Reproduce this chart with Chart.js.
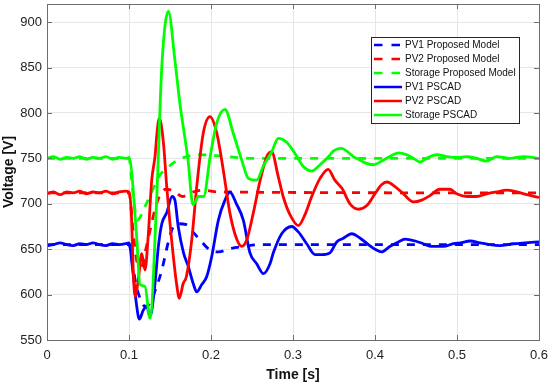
<!DOCTYPE html>
<html>
<head>
<meta charset="utf-8">
<script src="https://cdn.jsdelivr.net/npm/chart.js@4.4.1/dist/chart.umd.min.js"></script>
<style>
  html, body { margin: 0; padding: 0; background: #fff; }
  #wrap { width: 550px; height: 385px; }
</style>
</head>
<body>
<div id="wrap"><canvas id="chart" width="550" height="385"></canvas></div>
<script>
// time [s] / voltage [V] pairs
const tPV1Prop = [0, 0.1, 0.105, 0.109, 0.1155, 0.1195, 0.125, 0.1337, 0.14, 0.148, 0.154, 0.16, 0.17, 0.178, 0.1887, 0.1988, 0.209, 0.225, 0.24, 0.26, 0.6];
const vPV1Prop = [655, 655, 630, 609, 592, 587, 590, 609, 627, 658, 675, 678, 677, 669, 658, 649, 647, 651, 653, 655, 655];

const tPV2Prop = [0, 0.1, 0.105, 0.11, 0.115, 0.12, 0.126, 0.132, 0.138, 0.145, 0.155, 0.165, 0.178, 0.19, 0.21, 0.6];
const vPV2Prop = [712, 712, 670, 635, 630, 648, 672, 695, 710, 716, 714, 708, 713, 715, 713, 712];

const tStoProp = [0, 0.1, 0.105, 0.11, 0.1195, 0.1297, 0.138, 0.146, 0.154, 0.17, 0.187, 0.219, 0.25, 0.6];
const vStoProp = [750, 750, 710, 682, 697, 717, 732, 739, 745, 752, 754, 752, 750, 750];

const tPV1Pscad = [0, 0.008, 0.016, 0.024, 0.032, 0.04, 0.048, 0.056, 0.064, 0.072, 0.08, 0.088, 0.096, 0.1,
  0.105, 0.109, 0.1126, 0.1175, 0.1216, 0.1256, 0.1317, 0.1357, 0.14, 0.146, 0.1525, 0.156, 0.16, 0.1665, 0.1723,
  0.1784, 0.1826, 0.1887, 0.1948, 0.2009, 0.209, 0.217, 0.223, 0.231, 0.2394, 0.2475, 0.2557, 0.264, 0.272, 0.276,
  0.2862, 0.2984, 0.3065, 0.3167, 0.327, 0.335, 0.345, 0.3533, 0.3614, 0.3716, 0.382, 0.392, 0.4, 0.408, 0.418,
  0.4285, 0.4366, 0.449, 0.459, 0.469, 0.4833, 0.4955, 0.504, 0.516, 0.528, 0.54, 0.552, 0.5687, 0.583, 0.6];
const vPV1Pscad = [654, 655, 657, 655, 654, 656, 655, 657, 655, 654, 656, 655, 656, 657,
  623, 590, 573, 583, 587, 576, 612, 652, 678, 690, 708, 704, 675, 646, 631,
  612, 603, 611, 620, 642, 682, 704, 713, 700, 682, 646, 634, 623, 634, 646,
  667, 675, 669, 656, 644, 644, 646, 658, 662, 667, 662, 655, 650, 647, 653,
  658, 661, 659, 656, 653, 653, 656, 657, 659, 657, 655, 654, 656, 657, 658];

const tPV2Pscad = [0, 0.008, 0.016, 0.024, 0.032, 0.04, 0.048, 0.056, 0.064, 0.072, 0.08, 0.088, 0.096, 0.1,
  0.103, 0.105, 0.1073, 0.1113, 0.1155, 0.1195, 0.1236, 0.1277, 0.1317, 0.1345, 0.137, 0.142, 0.146, 0.152, 0.158,
  0.1614, 0.166, 0.17, 0.1765, 0.1826, 0.1906, 0.1988, 0.207, 0.215, 0.223, 0.231, 0.2375, 0.2435, 0.2516, 0.26,
  0.268, 0.274, 0.282, 0.288, 0.2963, 0.3065, 0.3146, 0.3228, 0.333, 0.343, 0.351, 0.3597, 0.3695, 0.38, 0.39,
  0.4, 0.408, 0.4146, 0.4244, 0.4345, 0.447, 0.457, 0.467, 0.479, 0.4915, 0.4996, 0.512, 0.524, 0.536, 0.548,
  0.5606, 0.573, 0.585, 0.6];
const vPV2Pscad = [711, 713, 710, 713, 712, 714, 711, 713, 712, 714, 711, 713, 714, 713,
  686, 631, 598, 616, 645, 627, 667, 726, 752, 781, 794, 767, 719, 660, 612,
  596, 612, 620, 660, 719, 778, 796, 778, 737, 690, 662, 653, 660, 690, 726,
  752, 757, 730, 708, 688, 676, 688, 708, 728, 738, 726, 717, 700, 694, 698,
  711, 721, 724, 719, 711, 702, 704, 709, 716, 716, 711, 708, 708, 711, 713,
  715, 713, 710, 707];

const tStoPscad = [0, 0.008, 0.016, 0.024, 0.032, 0.04, 0.048, 0.056, 0.064, 0.072, 0.08, 0.088, 0.096, 0.1,
  0.109, 0.1134, 0.1195, 0.1256, 0.1337, 0.14, 0.148, 0.156, 0.162, 0.172, 0.178, 0.185, 0.191, 0.199, 0.207,
  0.217, 0.227, 0.2375, 0.2455, 0.2557, 0.264, 0.274, 0.282, 0.292, 0.302, 0.3126, 0.323, 0.333, 0.3435, 0.349,
  0.359, 0.367, 0.3735, 0.3817, 0.388, 0.398, 0.41, 0.418, 0.4285, 0.4387, 0.447, 0.455, 0.463, 0.475, 0.4875,
  0.4996, 0.512, 0.524, 0.536, 0.548, 0.5646, 0.581, 0.6];
const vStoPscad = [750, 752, 749, 751, 750, 752, 749, 751, 750, 752, 749, 751, 750, 751,
  668, 611, 609, 574, 704, 851, 912, 858, 811, 748, 699, 708, 708, 752, 789,
  804, 778, 748, 728, 726, 742, 757, 772, 768, 756, 741, 736, 743, 752, 758,
  761, 757, 752, 748, 745, 743, 748, 752, 756, 754, 750, 746, 750, 754, 752,
  751, 752, 750, 747, 752, 750, 752, 750];

const xTicks = [0, 0.1, 0.2, 0.3, 0.4, 0.5, 0.6];
const yTicks = [550, 600, 650, 700, 750, 800, 850, 900];

const pts = (ts, vs) => ts.map((t, i) => ({ x: t, y: vs[i] }));

const BLUE = '#0000ff', RED = '#ff0000', GREEN = '#00ff00';
const DASH = [8, 8];

const series = [
  { label: 'PV1 Proposed Model', t: tPV1Prop, v: vPV1Prop, color: BLUE, dash: DASH },
  { label: 'PV2 Proposed Model', t: tPV2Prop, v: vPV2Prop, color: RED, dash: DASH },
  { label: 'Storage Proposed Model', t: tStoProp, v: vStoProp, color: GREEN, dash: DASH },
  { label: 'PV1 PSCAD', t: tPV1Pscad, v: vPV1Pscad, color: BLUE, dash: [] },
  { label: 'PV2 PSCAD', t: tPV2Pscad, v: vPV2Pscad, color: RED, dash: [] },
  { label: 'Storage PSCAD', t: tStoPscad, v: vStoPscad, color: GREEN, dash: [] }
];

// matlab-ish box: frame plus inward tick marks
const boxFrame = {
  id: 'boxFrame',
  afterDatasetsDraw(chart) {
    const { ctx, chartArea: a, scales } = chart;
    ctx.save();
    ctx.strokeStyle = '#6e6e6e';
    ctx.lineWidth = 1;
    ctx.beginPath();
    xTicks.forEach(v => {
      const x = Math.round(scales.x.getPixelForValue(v)) + 0.5;
      ctx.moveTo(x, a.bottom); ctx.lineTo(x, a.bottom - 5);
      ctx.moveTo(x, a.top); ctx.lineTo(x, a.top + 5);
    });
    yTicks.forEach(v => {
      const y = Math.round(scales.y.getPixelForValue(v)) + 0.5;
      ctx.moveTo(a.left, y); ctx.lineTo(a.left + 5, y);
      ctx.moveTo(a.right, y); ctx.lineTo(a.right - 5, y);
    });
    ctx.stroke();
    ctx.strokeRect(Math.round(a.left) + 0.5, Math.round(a.top) + 0.5,
      Math.round(a.right - a.left), Math.round(a.bottom - a.top));
    ctx.restore();
  }
};

// legend box in the upper right of the axes
const boxLegend = {
  id: 'boxLegend',
  afterDraw(chart) {
    const ctx = chart.ctx;
    const x0 = 371, y0 = 37, w = 148, h = 86;
    ctx.save();
    ctx.fillStyle = '#fff';
    ctx.fillRect(x0, y0, w, h);
    ctx.strokeStyle = '#262626';
    ctx.lineWidth = 1;
    ctx.strokeRect(x0 + 0.5, y0 + 0.5, w, h);
    ctx.font = '10px "Liberation Sans", Arial, sans-serif';
    ctx.textBaseline = 'middle';
    chart.data.datasets.forEach((ds, i) => {
      const y = y0 + 8 + i * 14;
      const dashed = ds.borderDash && ds.borderDash.length;
      ctx.strokeStyle = ds.borderColor;
      ctx.lineWidth = 2.5;
      ctx.setLineDash(dashed ? [8.5, 9] : []);
      ctx.beginPath();
      ctx.moveTo(x0 + 3, y);
      ctx.lineTo(x0 + (dashed ? 29 : 31), y);
      ctx.stroke();
      ctx.setLineDash([]);
      ctx.fillStyle = '#111';
      ctx.fillText(ds.label, x0 + 34, y + 0.5);
    });
    ctx.restore();
  }
};

new Chart(document.getElementById('chart'), {
  type: 'line',
  data: {
    datasets: series.map((s, i) => ({
      label: s.label,
      data: pts(s.t, s.v),
      borderColor: s.color,
      backgroundColor: s.color,
      borderDash: s.dash,
      borderWidth: 2.8,
      pointRadius: 0,
      cubicInterpolationMode: 'monotone',
      fill: false,
      order: series.length - i
    }))
  },
  options: {
    responsive: false,
    animation: false,
    devicePixelRatio: 1,
    layout: { padding: { top: 4, right: 11, left: 0, bottom: 0 } },
    plugins: { legend: { display: false }, tooltip: { enabled: false } },
    scales: {
      x: {
        type: 'linear',
        min: 0,
        max: 0.6,
        afterFit: s => { s.height = 45; s.paddingLeft = 0; s.paddingRight = 0; },
        afterBuildTicks: s => { s.ticks = xTicks.map(v => ({ value: v })); },
        ticks: {
          padding: 8,
          color: '#222',
          font: { family: '"Liberation Sans", Arial, sans-serif', size: 13 },
          callback: v => String(+v.toFixed(1))
        },
        grid: { color: '#e6e6e6', drawTicks: false },
        border: { display: false },
        title: {
          display: true,
          text: 'Time [s]',
          color: '#111',
          font: { family: '"Liberation Sans", Arial, sans-serif', size: 14, weight: 'bold' },
          padding: { top: 0, bottom: 1 }
        }
      },
      y: {
        type: 'linear',
        min: 550,
        max: 920,
        afterFit: s => { s.width = 47; s.paddingTop = 0; s.paddingBottom = 0; },
        afterBuildTicks: s => { s.ticks = yTicks.map(v => ({ value: v })); },
        ticks: {
          padding: 5,
          color: '#222',
          font: { family: '"Liberation Sans", Arial, sans-serif', size: 13 }
        },
        grid: { color: '#e6e6e6', drawTicks: false },
        border: { display: false },
        title: {
          display: true,
          text: 'Voltage [V]',
          color: '#111',
          font: { family: '"Liberation Sans", Arial, sans-serif', size: 14, weight: 'bold' },
          padding: { top: 1, bottom: 0 }
        }
      }
    }
  },
  plugins: [boxFrame, boxLegend]
});
</script>
</body>
</html>
